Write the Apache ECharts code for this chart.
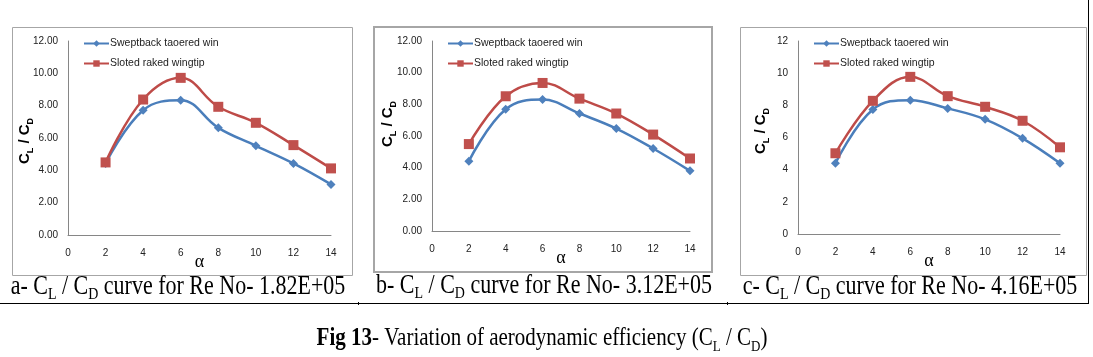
<!DOCTYPE html>
<html><head><meta charset="utf-8">
<script src="https://cdn.jsdelivr.net/npm/echarts@6/dist/echarts.min.js"></script>
<style>html,body{margin:0;padding:0;background:#fff}#c{width:1093px;height:357px}</style>
</head><body><div id="c"></div>
<script>
// ---- data ----
const alpha = [2, 4, 6, 8, 10, 12, 14];
const sweptA  = [4.43, 7.72, 8.34, 6.63, 5.52, 4.43, 3.13];
const slotedA = [4.49, 8.38, 9.72, 7.93, 6.94, 5.56, 4.12];
const sweptB  = [4.41, 7.69, 8.30, 7.42, 6.47, 5.21, 3.80];
const slotedB = [5.49, 8.51, 9.35, 8.36, 7.42, 6.09, 4.58];
const sweptC  = [4.40, 7.74, 8.32, 7.81, 7.13, 5.95, 4.40];
const slotedC = [5.02, 8.28, 9.77, 8.57, 7.91, 7.04, 5.39];
const seriesNames = ['Sweptback taoered win', 'Sloted raked wingtip'];
const panelLetters = ['a', 'b', 'c'];
const reNumbers = ['1.82E+05', '3.12E+05', '4.16E+05'];
const yDecimals = [2, 2, 0];
const figNumber = 'Fig 13';
const figTitle = '- Variation of aerodynamic efficiency (';

// ---- layout ----
const grids = [
  {left: 68, top: 41, width: 263, height: 194},
  {left: 432, top: 41, width: 258, height: 190},
  {left: 798, top: 41, width: 262, height: 193}
];
const boxes = [
  {x: 12.5, y: 27.5, w: 340, h: 248, lw: 1},
  {x: 374, y: 27, w: 338, h: 245, lw: 2},
  {x: 740.5, y: 27.5, w: 346, h: 248, lw: 1}
];
const yNamePos = [[26, 141], [389, 124], [762, 131]];
const legendPos = [[83, 38], [447, 38], [813, 38]];
const captionPos = [[178, 289], [544, 288], [910, 289]];
const BLUE = '#4A7EBB', RED = '#BE4B48';
const swept = [sweptA, sweptB, sweptC];
const sloted = [slotedA, slotedB, slotedC];

const pairs = (ys) => alpha.map((a, i) => [a, ys[i]]);
const series = [], xAxis = [], yAxis = [], legend = [], graphic = [];

const serifRich = {
  n: {fontFamily: 'Liberation Serif', fontSize: 22, color: '#000', verticalAlign: 'top', lineHeight: 26},
  s: {fontFamily: 'Liberation Serif', fontSize: 14, color: '#000', verticalAlign: 'top', lineHeight: 14, padding: [11, 0, 0, 0]},
  b: {fontFamily: 'Liberation Serif', fontSize: 21, fontWeight: 'bold', color: '#000', verticalAlign: 'top', lineHeight: 24},
  m: {fontFamily: 'Liberation Serif', fontSize: 21, color: '#000', verticalAlign: 'top', lineHeight: 24},
  t: {fontFamily: 'Liberation Serif', fontSize: 13, color: '#000', verticalAlign: 'top', lineHeight: 13, padding: [11, 0, 0, 0]}
};

for (let p = 0; p < 3; p++) {
  const b = boxes[p];
  graphic.push({type: 'rect', z: 0, shape: {x: b.x, y: b.y, width: b.w, height: b.h},
    style: {fill: '#fff', stroke: '#a6a6a6', lineWidth: b.lw}});
  xAxis.push({type: 'value', gridIndex: p, min: 0, max: 14, interval: 2,
    axisLine: {lineStyle: {color: '#868686', width: 1}}, axisTick: {show: false},
    splitLine: {show: false},
    axisLabel: {color: '#222', fontFamily: 'Liberation Sans', fontSize: 10, margin: 13}});
  const dec = yDecimals[p];
  yAxis.push({type: 'value', gridIndex: p, min: 0, max: 12, interval: 2,
    axisLine: {show: true, lineStyle: {color: '#868686', width: 1}}, axisTick: {show: false},
    splitLine: {show: false},
    axisLabel: {color: '#222', fontFamily: 'Liberation Sans', fontSize: 10, margin: 10,
      formatter: (v) => v.toFixed(dec)}});
  series.push({type: 'line', name: seriesNames[0], xAxisIndex: p, yAxisIndex: p,
    data: pairs(swept[p]), smooth: 0.4, symbol: 'diamond', symbolSize: 9,
    lineStyle: {color: BLUE, width: 2.5}, itemStyle: {color: '#4F81BD'}, z: 3});
  series.push({type: 'line', name: seriesNames[1], xAxisIndex: p, yAxisIndex: p,
    data: pairs(sloted[p]), smooth: 0.4, symbol: 'rect', symbolSize: 10,
    lineStyle: {color: RED, width: 2.5}, itemStyle: {color: '#C0504D'}, z: 4});
  legend.push({left: legendPos[p][0], top: legendPos[p][1], orient: 'vertical', padding: 0,
    itemWidth: 25, itemHeight: 8, itemGap: 9, data: seriesNames,
    textStyle: {fontFamily: 'Liberation Sans', fontSize: 10.5, color: '#222', padding: [0, 0, 0, -4]}});
  // y axis name
  graphic.push({type: 'text', z: 10, x: yNamePos[p][0], y: yNamePos[p][1], rotation: Math.PI / 2,
    style: {text: '{c|C}{s|L}{c| / C}{s|D}', align: 'center', verticalAlign: 'middle',
      rich: {c: {fontFamily: 'Liberation Sans', fontWeight: 'bold', fontSize: 15, color: '#000', verticalAlign: 'top', lineHeight: 18},
             s: {fontFamily: 'Liberation Sans', fontWeight: 'bold', fontSize: 9, color: '#000', verticalAlign: 'top', lineHeight: 9, padding: [9, 0, 0, 0]}}}});
  // x axis name
  graphic.push({type: 'text', z: 10, x: grids[p].left + grids[p].width / 2, y: grids[p].top + grids[p].height + 27,
    style: {text: 'α', align: 'center', verticalAlign: 'middle', fontFamily: 'Liberation Serif', fontSize: 18, fill: '#000'}});
  // caption
  graphic.push({type: 'text', z: 10, x: captionPos[p][0], y: captionPos[p][1], scaleY: 1.2,
    style: {text: '{n|' + panelLetters[p] + '- C}{s|L}{n| / C}{s|D}{n| curve for Re No- ' + reNumbers[p] + '}',
      align: 'center', verticalAlign: 'middle', rich: serifRich}});
}
// frame lines
graphic.push({type: 'line', shape: {x1: 0, y1: 303.5, x2: 1088, y2: 303.5}, style: {stroke: '#000', lineWidth: 1}});
graphic.push({type: 'line', shape: {x1: 1088.5, y1: 0, x2: 1088.5, y2: 304}, style: {stroke: '#000', lineWidth: 1}});
graphic.push({type: 'line', shape: {x1: 358.5, y1: 302, x2: 358.5, y2: 305}, style: {stroke: '#000', lineWidth: 1}});
graphic.push({type: 'line', shape: {x1: 727.5, y1: 302, x2: 727.5, y2: 305}, style: {stroke: '#000', lineWidth: 1}});
// figure caption
graphic.push({type: 'text', z: 10, x: 542, y: 340, scaleY: 1.2,
  style: {text: '{b|' + figNumber + '}{m|' + figTitle + 'C}{t|L}{m| / C}{t|D}{m|)}', align: 'center', verticalAlign: 'middle', rich: serifRich}});

const chart = echarts.init(document.getElementById('c'), null, {renderer: 'canvas'});
chart.setOption({
  animation: false,
  backgroundColor: '#fff',
  grid: grids,
  xAxis: xAxis,
  yAxis: yAxis,
  legend: legend,
  series: series,
  graphic: graphic
});
</script></body></html>
